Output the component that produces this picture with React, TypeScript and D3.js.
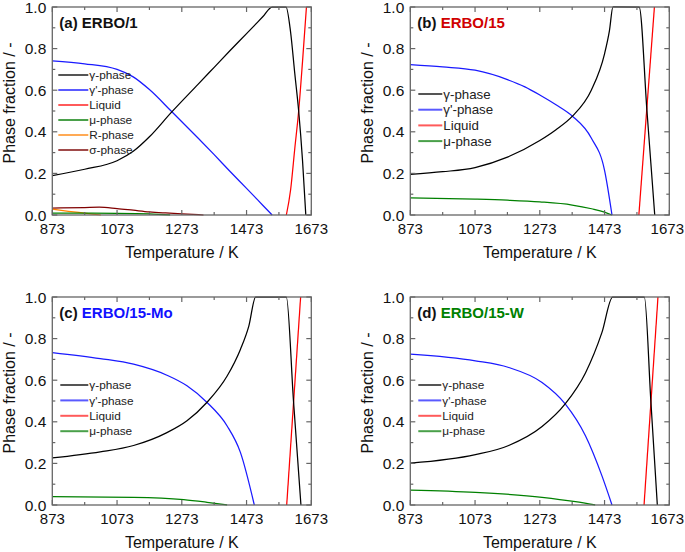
import * as d3 from "d3";

type Pt = [number, number];

const xTicks = [873, 1073, 1273, 1473, 1673];
const xMinor = [973, 1173, 1373, 1573];
const yTicks = [0, 0.2, 0.4, 0.6, 0.8, 1.0];
const yMinor = [0.1, 0.3, 0.5, 0.7, 0.9];

// (a) ERBO/1
const gammaA: Pt[] = [[873, 0.189], [973, 0.22], [1073, 0.261], [1123, 0.306], [1173, 0.376], [1240, 0.492], [1323, 0.628], [1373, 0.71], [1423, 0.792], [1473, 0.872], [1523, 0.953], [1552, 1], [1595, 1], [1609, 0.88], [1622, 0.68], [1634, 0.5], [1646, 0.26], [1656, 0]];
const gpA: Pt[] = [[873, 0.741], [973, 0.727], [1073, 0.7], [1123, 0.664], [1173, 0.603], [1240, 0.5], [1323, 0.37], [1373, 0.29], [1423, 0.208], [1473, 0.128], [1523, 0.047], [1552, 0]];
const liqA: Pt[] = [[1596, 0], [1609, 0.12], [1622, 0.32], [1634, 0.5], [1646, 0.74], [1658, 1]];
const muA: Pt[] = [[873, 0.009], [1073, 0.008], [1173, 0.006], [1237, 0]];
const rA: Pt[] = [[873, 0.028], [923, 0.018], [973, 0.009], [1023, 0]];
const sigA: Pt[] = [[873, 0.033], [973, 0.036], [1018, 0.038], [1073, 0.031], [1123, 0.023], [1173, 0.015], [1223, 0.01], [1273, 0.006], [1340, 0]];

// (b) ERBO/15
const gammaB: Pt[] = [[873, 0.195], [973, 0.208], [1073, 0.228], [1173, 0.278], [1273, 0.358], [1323, 0.41], [1373, 0.474], [1432, 0.6], [1473, 0.775], [1488, 0.885], [1499, 1], [1580, 1], [1604, 0.5], [1628, 0]];
const gpB: Pt[] = [[873, 0.723], [973, 0.712], [1073, 0.696], [1173, 0.651], [1227, 0.616], [1273, 0.577], [1323, 0.53], [1373, 0.476], [1432, 0.37], [1473, 0.215], [1496, 0]];
const liqB: Pt[] = [[1579, 0], [1627, 1]];
const muB: Pt[] = [[873, 0.082], [1073, 0.076], [1173, 0.071], [1273, 0.063], [1373, 0.048], [1433, 0.03], [1473, 0.014], [1496, 0]];

// (c) ERBO/15-Mo
const gammaC: Pt[] = [[873, 0.226], [1021, 0.255], [1124, 0.286], [1227, 0.348], [1289, 0.405], [1351, 0.494], [1413, 0.62], [1454, 0.748], [1480, 0.86], [1501, 1], [1596, 1], [1618, 0.5], [1641, 0]];
const gpC: Pt[] = [[873, 0.733], [1021, 0.704], [1124, 0.677], [1227, 0.624], [1289, 0.573], [1351, 0.493], [1413, 0.38], [1454, 0.253], [1497, 0]];
const liqC: Pt[] = [[1597, 0], [1640, 1]];
const muC: Pt[] = [[873, 0.04], [1124, 0.037], [1279, 0.026], [1351, 0.013], [1413, 0]];

// (d) ERBO/15-W
const gammaD: Pt[] = [[873, 0.201], [1074, 0.242], [1177, 0.286], [1280, 0.377], [1352, 0.487], [1414, 0.635], [1465, 0.83], [1498, 1], [1596, 1], [1616, 0.5], [1636, 0]];
const gpD: Pt[] = [[873, 0.725], [1074, 0.693], [1177, 0.661], [1280, 0.589], [1352, 0.485], [1414, 0.333], [1465, 0.14], [1496, 0]];
const liqD: Pt[] = [[1595, 0], [1638, 1]];
const muD: Pt[] = [[873, 0.072], [1074, 0.061], [1280, 0.037], [1383, 0.016], [1444, 0]];

const phaseNames = ["γ-phase", "γ'-phase", "Liquid", "μ-phase", "R-phase", "σ-phase"];
const phaseColors = ["#000000", "#1a1aff", "#ff0000", "#008000", "#ff8000", "#800000"];
const legendColors = ["#555555", "#5a5aff", "#ff5a5a", "#4aa04a", "#ffaa55", "#a04a4a"];

const font = "'Liberation Sans', Arial, sans-serif";
const W = 259;
const H = 208;

interface PanelProps {
  ox: number;
  oy: number;
  tag: string;
  name: string;
  nameColor: string;
  series: Pt[][];
  legX: number;
  legY: number;
  legLen: number;
  legStep: number;
  legFont: number;
}

const Panel = ({ ox, oy, tag, name, nameColor, series, legX, legY, legLen, legStep, legFont }: PanelProps) => {
  const x = d3.scaleLinear().domain([873, 1673]).range([0, W]);
  const y = d3.scaleLinear().domain([0, 1]).range([H, 0]);
  const line = d3
    .line<Pt>()
    .x((d) => x(d[0]))
    .y((d) => y(d[1]))
    .curve(d3.curveMonotoneX);
  const axisColor = "#666";
  // keep the last tick label inside the page
  const labelX = (t: number) => Math.min(x(t), 684 - ox - 16.7);
  return (
    <g transform={`translate(${ox},${oy})`} fontFamily={font}>
      {series
        .map((s, i) => ({ s, i }))
        .reverse()
        .map(({ s, i }) => (
          <path key={i} d={line(s) || ""} fill="none" stroke={phaseColors[i]} strokeWidth={1.25} />
        ))}
      <rect x={0} y={0} width={W} height={H} fill="none" stroke={axisColor} strokeWidth={1.3} />
      {xTicks.map((t) => (
        <g key={"x" + t}>
          <line x1={x(t)} x2={x(t)} y1={H} y2={H - 5} stroke={axisColor} strokeWidth={1.2} />
          <line x1={x(t)} x2={x(t)} y1={0} y2={5} stroke={axisColor} strokeWidth={1.2} />
          <text x={labelX(t)} y={H + 19} fontSize={15} textAnchor="middle" fill="#111">
            {t}
          </text>
        </g>
      ))}
      {xMinor.map((t) => (
        <g key={"xm" + t}>
          <line x1={x(t)} x2={x(t)} y1={H} y2={H - 3} stroke={axisColor} strokeWidth={1.2} />
          <line x1={x(t)} x2={x(t)} y1={0} y2={3} stroke={axisColor} strokeWidth={1.2} />
        </g>
      ))}
      {yTicks.map((t) => (
        <g key={"y" + t}>
          <line x1={0} x2={5} y1={y(t)} y2={y(t)} stroke={axisColor} strokeWidth={1.2} />
          <line x1={W} x2={W - 5} y1={y(t)} y2={y(t)} stroke={axisColor} strokeWidth={1.2} />
          <text x={-6} y={y(t)} dy="0.36em" fontSize={15.5} textAnchor="end" fill="#111">
            {t.toFixed(1)}
          </text>
        </g>
      ))}
      {yMinor.map((t) => (
        <g key={"ym" + t}>
          <line x1={0} x2={3} y1={y(t)} y2={y(t)} stroke={axisColor} strokeWidth={1.2} />
          <line x1={W} x2={W - 3} y1={y(t)} y2={y(t)} stroke={axisColor} strokeWidth={1.2} />
        </g>
      ))}
      <text x={W / 2} y={H + 43} fontSize={16} textAnchor="middle" fill="#111">
        Temperature / K
      </text>
      <text transform={`translate(-37,${H / 2 - 8}) rotate(-90)`} fontSize={16} textAnchor="middle" fill="#111">
        Phase fraction / -
      </text>
      <text x={7} y={21} fontSize={15} fontWeight="bold" fill="#111">
        {tag} <tspan fill={nameColor}>{name}</tspan>
      </text>
      {series.map((_, i) => (
        <g key={"l" + i} transform={`translate(${legX},${legY + i * legStep})`}>
          <line x1={0} x2={legLen} y1={0} y2={0} stroke={legendColors[i]} strokeWidth={2} />
          <text x={legLen + 1} y={0} dy="0.36em" fontSize={legFont} fill="#222">
            {phaseNames[i]}
          </text>
        </g>
      ))}
    </g>
  );
};

export default function App() {
  return (
    <svg width={685} height={552} style={{ position: "absolute", left: 0, top: 0, background: "#fff" }}>
      <Panel ox={52.3} oy={7} tag="(a)" name="ERBO/1" nameColor="#111" series={[gammaA, gpA, liqA, muA, rA, sigA]}
        legX={6} legY={68} legLen={30} legStep={15} legFont={11.8} />
      <Panel ox={410.3} oy={7} tag="(b)" name="ERBO/15" nameColor="#d00000" series={[gammaB, gpB, liqB, muB]}
        legX={8} legY={87} legLen={24} legStep={15.7} legFont={13.3} />
      <Panel ox={52.3} oy={297} tag="(c)" name="ERBO/15-Mo" nameColor="#1010ff" series={[gammaC, gpC, liqC, muC]}
        legX={8} legY={88} legLen={28} legStep={15.4} legFont={11.8} />
      <Panel ox={410.3} oy={297} tag="(d)" name="ERBO/15-W" nameColor="#008000" series={[gammaD, gpD, liqD, muD]}
        legX={8} legY={88} legLen={23} legStep={15.4} legFont={11.8} />
    </svg>
  );
}
